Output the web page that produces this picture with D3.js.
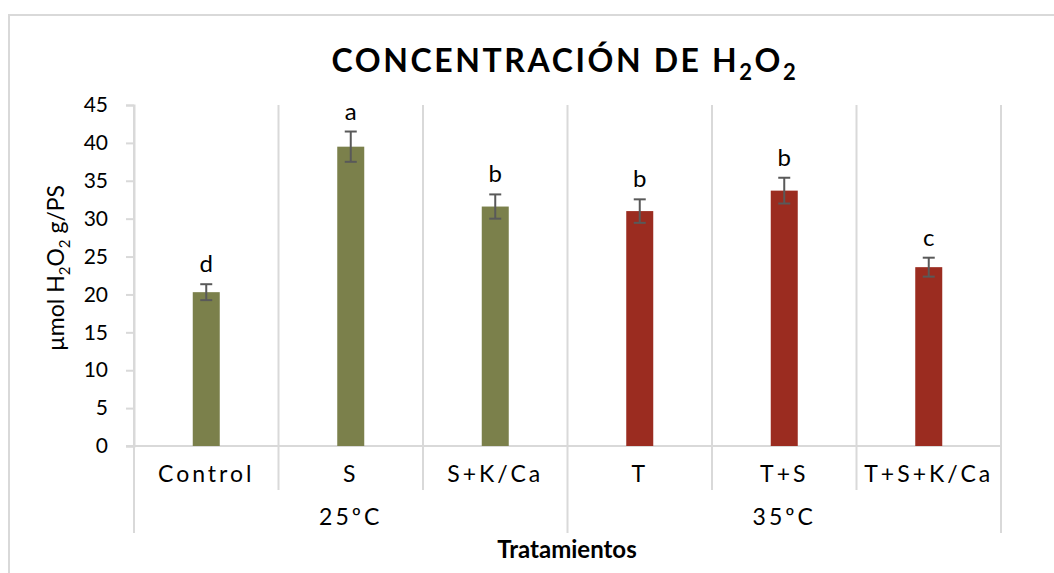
<!DOCTYPE html>
<html>
<head>
<meta charset="utf-8">
<script src="https://cdn.jsdelivr.net/npm/d3@7"></script>
<style>
  body { margin: 0; background: #fff; }
  svg text { font-family: Lato, "Open Sans", sans-serif; fill: #000; }
</style>
</head>
<body>
<svg id="chart" width="1054" height="573"></svg>
<script>
/// data
var categories = ["Control", "S", "S+K/Ca", "T", "T+S", "T+S+K/Ca"];
var values = [20.3, 39.5, 31.6, 31.0, 33.7, 23.6];
var errors = [1.05, 2.0, 1.6, 1.55, 1.7, 1.25];
var letters = ["d", "a", "b", "b", "b", "c"];
var groups = ["25ºC", "35ºC"];
var groupOf = [0, 0, 0, 1, 1, 1];
var yTicks = [0, 5, 10, 15, 20, 25, 30, 35, 40, 45];

var groupColors = ["#7b804b", "#9b2c20"];
var gridColor = "#d9d9d9";

var svg = d3.select("#chart");

/// plot area
var plotLeft = 134, plotRight = 1001, plotTop = 105, plotBottom = 446;

var x = d3.scaleBand()
          .domain(categories)
          .range([plotLeft, plotRight])
          .paddingInner(0)
          .paddingOuter(0);

var y = d3.scaleLinear()
          .domain([0, 45])
          .range([plotBottom, plotTop]);

var barWidth = 27;

// chart frame
svg.append("path")
   .attr("d", "M9,573 L9,15 L1054,15")
   .attr("fill", "none")
   .attr("stroke", gridColor)
   .attr("stroke-width", 2);

// title with subscripts
var title = svg.append("text")
               .attr("x", 565)
               .attr("y", 72)
               .attr("text-anchor", "middle")
               .style("font-size", "32px")
               .style("font-weight", 700)
               .style("letter-spacing", "2.6px");
title.append("tspan").text("CONCENTRACIÓN DE H");
title.append("tspan").attr("dy", 8).style("font-size", "22px").text("2");
title.append("tspan").attr("dy", -8).text("O");
title.append("tspan").attr("dy", 8).style("font-size", "22px").text("2");

// vertical category dividers
var bounds = categories.map(c => x(c)).concat([plotRight]);

svg.append("g")
   .selectAll("line")
   .data(bounds)
   .enter()
   .append("line")
   .attr("x1", d => d)
   .attr("x2", d => d)
   .attr("y1", plotTop)
   .attr("y2", (d, i) => (i === 0 || i === 3 || i === bounds.length - 1) ? 533 : 490)
   .attr("stroke", gridColor)
   .attr("stroke-width", 2);

// y axis
var yAxis = d3.axisLeft(y)
              .tickValues(yTicks)
              .tickSize(8)
              .tickPadding(18);

var yG = svg.append("g")
            .attr("transform", "translate(" + plotLeft + ",0)")
            .call(yAxis);

yG.select(".domain").attr("stroke", gridColor).attr("stroke-width", 2);
yG.selectAll(".tick line").attr("stroke", gridColor).attr("stroke-width", 2);
yG.selectAll(".tick text")
  .style("font-size", "21px")
  .style("font-family", "Lato, sans-serif")
  .attr("fill", "#000");

// x axis line
svg.append("line")
   .attr("x1", plotLeft - 8)
   .attr("x2", plotRight)
   .attr("y1", plotBottom)
   .attr("y2", plotBottom)
   .attr("stroke", gridColor)
   .attr("stroke-width", 2);

// bars
svg.append("g")
   .selectAll("rect")
   .data(values)
   .enter()
   .append("rect")
   .attr("x", (d, i) => x(categories[i]) + x.bandwidth() / 2 - barWidth / 2)
   .attr("y", d => y(d))
   .attr("width", barWidth)
   .attr("height", d => plotBottom - y(d))
   .attr("fill", (d, i) => groupColors[groupOf[i]]);

// error bars
var eb = svg.append("g")
            .attr("stroke", "#595959")
            .attr("stroke-width", 2);

values.forEach(function(v, i) {
  var cx = x(categories[i]) + x.bandwidth() / 2;
  eb.append("line")
    .attr("x1", cx).attr("x2", cx)
    .attr("y1", y(v + errors[i])).attr("y2", y(v - errors[i]));
  eb.append("line")
    .attr("x1", cx - 6).attr("x2", cx + 6)
    .attr("y1", y(v + errors[i])).attr("y2", y(v + errors[i]));
  eb.append("line")
    .attr("x1", cx - 6).attr("x2", cx + 6)
    .attr("y1", y(v - errors[i])).attr("y2", y(v - errors[i]));
});

// significance letters
svg.append("g")
   .selectAll("text")
   .data(letters)
   .enter()
   .append("text")
   .attr("x", (d, i) => x(categories[i]) + x.bandwidth() / 2)
   .attr("y", (d, i) => y(values[i] + errors[i]) - 12)
   .attr("text-anchor", "middle")
   .style("font-size", "24px")
   .text(d => d);

// category labels
svg.append("g")
   .selectAll("text")
   .data(categories)
   .enter()
   .append("text")
   .attr("x", d => x(d) + x.bandwidth() / 2)
   .attr("y", 482)
   .attr("text-anchor", "middle")
   .style("font-size", "23px")
   .style("letter-spacing", "3px")
   .text(d => d);

// group labels
svg.append("g")
   .selectAll("text")
   .data(groups)
   .enter()
   .append("text")
   .attr("x", (d, gi) => {
     var idx = categories.filter((c, i) => groupOf[i] === gi);
     return (x(idx[0]) + x(idx[idx.length - 1]) + x.bandwidth()) / 2;
   })
   .attr("y", 525)
   .attr("text-anchor", "middle")
   .style("font-size", "23px")
   .style("letter-spacing", "3px")
   .text(d => d);

// x axis title
svg.append("text")
   .attr("x", 567)
   .attr("y", 558)
   .attr("text-anchor", "middle")
   .style("font-size", "24px")
   .style("font-weight", 700)
   .text("Tratamientos");

// y axis title
var yt = svg.append("text")
            .attr("transform", "translate(64,268) rotate(-90)")
            .attr("text-anchor", "middle")
            .style("font-size", "23px");
yt.append("tspan").text("µmol H");
yt.append("tspan").attr("dy", 6).style("font-size", "15px").text("2");
yt.append("tspan").attr("dy", -6).text("O");
yt.append("tspan").attr("dy", 6).style("font-size", "15px").text("2");
yt.append("tspan").attr("dy", -6).text(" g/PS");
</script>
</body>
</html>
